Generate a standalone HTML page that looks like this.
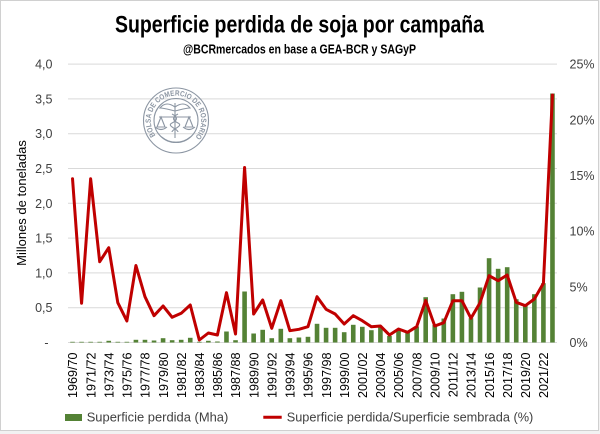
<!DOCTYPE html>
<html><head><meta charset="utf-8"><style>
html,body{margin:0;padding:0;background:#f2f2f2;}
svg{display:block;font-family:"Liberation Sans",Arial,sans-serif;}
</style></head><body>
<svg width="600" height="434" viewBox="0 0 600 434" xmlns="http://www.w3.org/2000/svg">
<rect x="0" y="0" width="600" height="434" fill="#f2f2f2"/>
<rect x="0.5" y="0.5" width="598" height="430" fill="#ffffff" stroke="#d0d0d0" stroke-width="1"/>

<!-- Title -->
<text x="115" y="32.5" font-size="24" font-weight="bold" fill="#000" textLength="369" lengthAdjust="spacingAndGlyphs">Superficie perdida de soja por campaña</text>
<text x="183" y="53.5" font-size="12.5" font-weight="bold" fill="#000" textLength="233" lengthAdjust="spacingAndGlyphs">@BCRmercados  en base a GEA-BCR y SAGyP</text>

<!-- Gridlines -->
<g stroke="#d9d9d9" stroke-width="1">
<line x1="68" y1="64.1" x2="557" y2="64.1"/>
<line x1="68" y1="98.9" x2="557" y2="98.9"/>
<line x1="68" y1="133.7" x2="557" y2="133.7"/>
<line x1="68" y1="168.5" x2="557" y2="168.5"/>
<line x1="68" y1="203.3" x2="557" y2="203.3"/>
<line x1="68" y1="238.1" x2="557" y2="238.1"/>
<line x1="68" y1="272.9" x2="557" y2="272.9"/>
<line x1="68" y1="307.7" x2="557" y2="307.7"/>
<line x1="68" y1="342.5" x2="557" y2="342.5"/>
</g>

<!-- Logo -->
<g fill="none" stroke="#8c96a3" stroke-width="1.1">
<circle cx="176" cy="120.5" r="32.5"/>
<circle cx="176" cy="120.5" r="22"/>
<path d="M162 137 A22 22 0 0 0 190 137" stroke-width="0.8"/>
<line x1="175" y1="103" x2="175" y2="138"/>
<path d="M175 107 C168 102 163 104 160 108 C165 108 170 110 175 111"/>
<path d="M175 107 C182 102 187 104 190 108 C185 108 180 110 175 111"/>
<path d="M172 114 C178 117 178 120 172 123 C166 126 178 129 178 132"/>
<path d="M178 114 C172 117 172 120 178 123 C184 126 172 129 172 132"/>
<line x1="159" y1="117" x2="191" y2="117"/>
<path d="M161 117 L157 127 L165 127 Z"/>
<path d="M189 117 L185 127 L193 127 Z"/>
<path d="M155 127 Q161 132 167 127"/>
<path d="M183 127 Q189 132 195 127"/>
</g>
<path id="ring" d="M155.5 135.5 A25.2 25.2 0 1 1 196.5 135.5" fill="none"/>
<text font-size="7.6" fill="#8c96a3" font-weight="bold"><textPath href="#ring" textLength="112" lengthAdjust="spacingAndGlyphs">BOLSA DE COMERCIO DE ROSARIO</textPath></text>

<!-- Bars -->
<g fill="#548235">
<rect x="70.23" y="341.8" width="4.6" height="0.7"/>
<rect x="79.28" y="341.8" width="4.6" height="0.7"/>
<rect x="88.34" y="341.8" width="4.6" height="0.7"/>
<rect x="97.39" y="341.8" width="4.6" height="0.7"/>
<rect x="106.45" y="340.8" width="4.6" height="1.7"/>
<rect x="115.51" y="341.8" width="4.6" height="0.7"/>
<rect x="124.56" y="341.8" width="4.6" height="0.7"/>
<rect x="133.62" y="339.8" width="4.6" height="2.7"/>
<rect x="142.67" y="339.8" width="4.6" height="2.7"/>
<rect x="151.73" y="340.5" width="4.6" height="2"/>
<rect x="160.78" y="338.2" width="4.6" height="4.3"/>
<rect x="169.84" y="340.2" width="4.6" height="2.3"/>
<rect x="178.89" y="339.8" width="4.6" height="2.7"/>
<rect x="187.95" y="337.8" width="4.6" height="4.7"/>
<rect x="197.01" y="341.8" width="4.6" height="0.7"/>
<rect x="206.06" y="340.8" width="4.6" height="1.7"/>
<rect x="215.12" y="341.5" width="4.6" height="1"/>
<rect x="224.17" y="331.5" width="4.6" height="11"/>
<rect x="233.23" y="340.2" width="4.6" height="2.3"/>
<rect x="242.28" y="291.5" width="4.6" height="51"/>
<rect x="251.34" y="333.5" width="4.6" height="9"/>
<rect x="260.39" y="329.8" width="4.6" height="12.7"/>
<rect x="269.45" y="338.2" width="4.6" height="4.3"/>
<rect x="278.51" y="328.8" width="4.6" height="13.7"/>
<rect x="287.56" y="338.2" width="4.6" height="4.3"/>
<rect x="296.62" y="337.5" width="4.6" height="5"/>
<rect x="305.67" y="336.8" width="4.6" height="5.7"/>
<rect x="314.73" y="323.8" width="4.6" height="18.7"/>
<rect x="323.78" y="327.8" width="4.6" height="14.7"/>
<rect x="332.84" y="327.8" width="4.6" height="14.7"/>
<rect x="341.89" y="332.2" width="4.6" height="10.3"/>
<rect x="350.95" y="324.8" width="4.6" height="17.7"/>
<rect x="360.01" y="326.8" width="4.6" height="15.7"/>
<rect x="369.06" y="330.2" width="4.6" height="12.3"/>
<rect x="378.12" y="327.5" width="4.6" height="15"/>
<rect x="387.17" y="336" width="4.6" height="6.5"/>
<rect x="396.23" y="330.5" width="4.6" height="12"/>
<rect x="405.28" y="332.5" width="4.6" height="10"/>
<rect x="414.34" y="326.5" width="4.6" height="16"/>
<rect x="423.39" y="297.2" width="4.6" height="45.3"/>
<rect x="432.45" y="324.8" width="4.6" height="17.7"/>
<rect x="441.51" y="318.5" width="4.6" height="24"/>
<rect x="450.56" y="294.2" width="4.6" height="48.3"/>
<rect x="459.62" y="291.8" width="4.6" height="50.7"/>
<rect x="468.67" y="318.2" width="4.6" height="24.3"/>
<rect x="477.73" y="287.5" width="4.6" height="55"/>
<rect x="486.78" y="258.2" width="4.6" height="84.3"/>
<rect x="495.84" y="268.8" width="4.6" height="73.7"/>
<rect x="504.89" y="267.2" width="4.6" height="75.3"/>
<rect x="513.95" y="299.2" width="4.6" height="43.3"/>
<rect x="523.01" y="305.2" width="4.6" height="37.3"/>
<rect x="532.06" y="294.2" width="4.6" height="48.3"/>
<rect x="541.12" y="283.2" width="4.6" height="59.3"/>
<rect x="550.17" y="93.5" width="4.6" height="249"/>
</g>

<!-- Line -->
<polyline fill="none" stroke="#c00000" stroke-width="3" stroke-linejoin="round" stroke-linecap="round" points="
72.53,178.8 81.58,303.3 90.64,178.8 99.69,261.7 108.75,247.7 117.81,302.7 126.86,321 135.92,265.5 144.97,296.7 154.03,315.7
163.08,306 172.14,317.3 181.19,313.3 190.25,305 199.31,340 208.36,333 217.42,335 226.47,292.7 235.53,334 244.58,167.5
253.64,314 262.69,300 271.75,328.3 280.81,300.7 289.86,330.7 298.92,329.3 307.97,326.7 317.03,296.7 326.08,309.3 335.14,314
344.19,324 353.25,315.7 362.31,320.7 371.36,326.7 380.42,326 389.47,335 398.53,329 407.58,332.3 416.64,326.7 425.69,300.5
434.75,326 443.81,322.7 452.86,300.7 461.92,300.7 470.97,318.3 480.03,302.7 489.08,275.7 498.14,280.7 507.19,275 516.25,302.3
525.31,305.7 534.36,299 543.42,283.3 552.47,95"/>

<!-- Left axis labels -->
<g font-size="12.5" fill="#404040" text-anchor="end">
<text x="52.5" y="68.6">4,0</text>
<text x="52.5" y="103.4">3,5</text>
<text x="52.5" y="138.2">3,0</text>
<text x="52.5" y="173">2,5</text>
<text x="52.5" y="207.8">2,0</text>
<text x="52.5" y="242.6">1,5</text>
<text x="52.5" y="277.4">1,0</text>
<text x="52.5" y="312.2">0,5</text>
<text x="48.5" y="347">-</text>
</g>

<!-- Right axis labels -->
<g font-size="12.5" fill="#404040">
<text x="569.5" y="68.6">25%</text>
<text x="569.5" y="124.3">20%</text>
<text x="569.5" y="180">15%</text>
<text x="569.5" y="235.6">10%</text>
<text x="569.5" y="291.3">5%</text>
<text x="569.5" y="347">0%</text>
</g>

<!-- Y title -->
<text transform="translate(26,203) rotate(-90)" font-size="13" fill="#000" text-anchor="middle">Millones de toneladas</text>

<!-- X labels -->
<g font-size="12.6" fill="#000" text-anchor="end">
<text transform="translate(77.2,352.5) rotate(-90)">1969/70</text>
<text transform="translate(95.3,352.5) rotate(-90)">1971/72</text>
<text transform="translate(113.4,352.5) rotate(-90)">1973/74</text>
<text transform="translate(131.6,352.5) rotate(-90)">1975/76</text>
<text transform="translate(149.7,352.5) rotate(-90)">1977/78</text>
<text transform="translate(167.8,352.5) rotate(-90)">1979/80</text>
<text transform="translate(185.9,352.5) rotate(-90)">1981/82</text>
<text transform="translate(204,352.5) rotate(-90)">1983/84</text>
<text transform="translate(222.1,352.5) rotate(-90)">1985/86</text>
<text transform="translate(240.2,352.5) rotate(-90)">1987/88</text>
<text transform="translate(258.3,352.5) rotate(-90)">1989/90</text>
<text transform="translate(276.4,352.5) rotate(-90)">1991/92</text>
<text transform="translate(294.6,352.5) rotate(-90)">1993/94</text>
<text transform="translate(312.7,352.5) rotate(-90)">1995/96</text>
<text transform="translate(330.8,352.5) rotate(-90)">1997/98</text>
<text transform="translate(348.9,352.5) rotate(-90)">1999/00</text>
<text transform="translate(367,352.5) rotate(-90)">2001/02</text>
<text transform="translate(385.1,352.5) rotate(-90)">2003/04</text>
<text transform="translate(403.2,352.5) rotate(-90)">2005/06</text>
<text transform="translate(421.3,352.5) rotate(-90)">2007/08</text>
<text transform="translate(439.5,352.5) rotate(-90)">2009/10</text>
<text transform="translate(457.6,352.5) rotate(-90)">2011/12</text>
<text transform="translate(475.7,352.5) rotate(-90)">2013/14</text>
<text transform="translate(493.8,352.5) rotate(-90)">2015/16</text>
<text transform="translate(511.9,352.5) rotate(-90)">2017/18</text>
<text transform="translate(530,352.5) rotate(-90)">2019/20</text>
<text transform="translate(548.1,352.5) rotate(-90)">2021/22</text>
</g>

<!-- Legend -->
<rect x="65" y="414" width="17" height="7" fill="#548235"/>
<text x="86.7" y="421.5" font-size="13" fill="#404040" textLength="141.6" lengthAdjust="spacingAndGlyphs">Superficie perdida (Mha)</text>
<line x1="263.3" y1="417.3" x2="281.7" y2="417.3" stroke="#c00000" stroke-width="3"/>
<text x="286.7" y="421.5" font-size="13" fill="#404040" textLength="246.6" lengthAdjust="spacingAndGlyphs">Superficie perdida/Superficie sembrada (%)</text>
</svg>
</body></html>
